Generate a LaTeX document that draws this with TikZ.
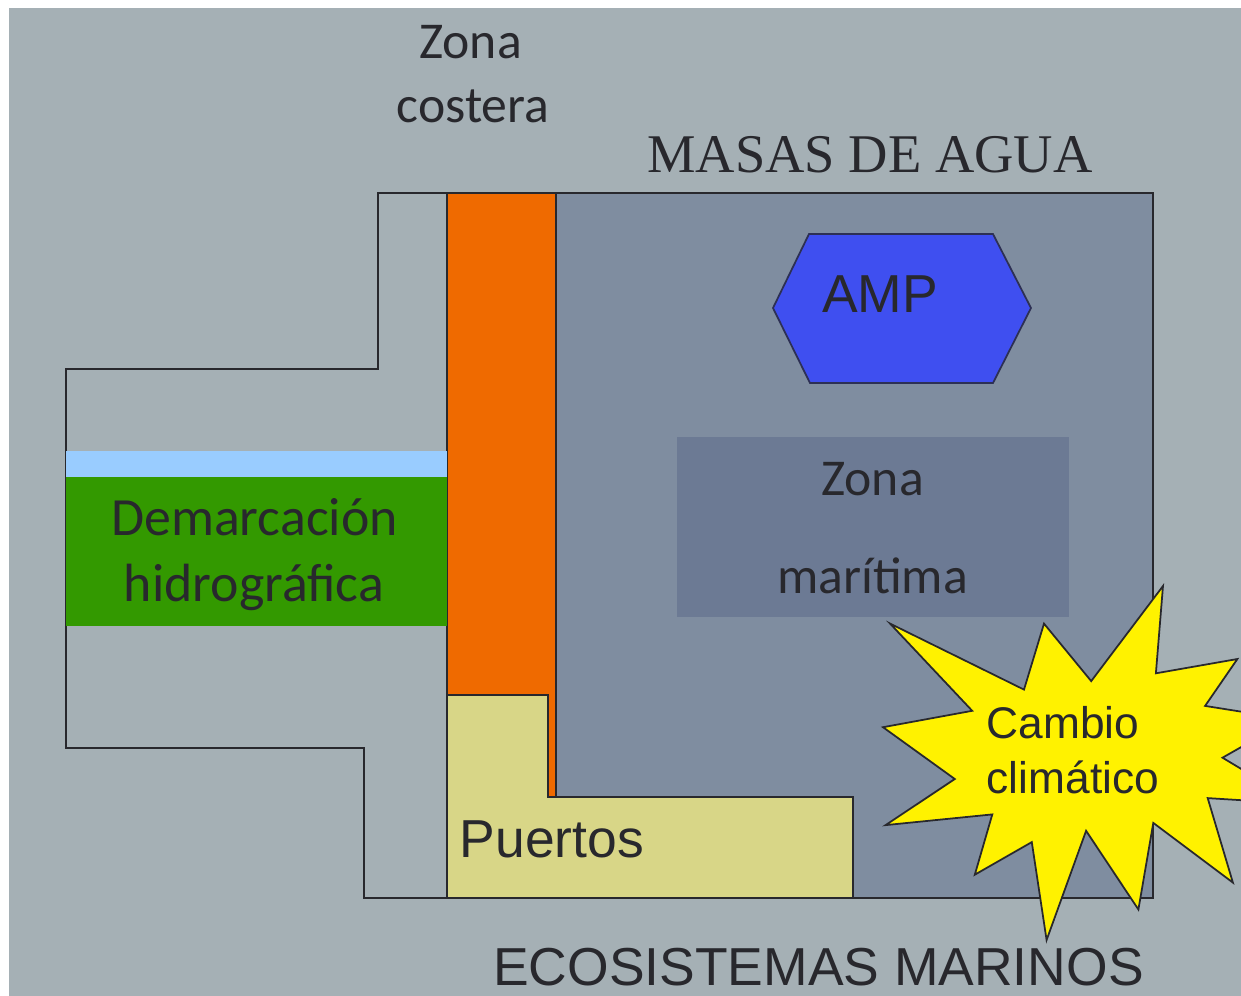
\documentclass[tikz,border=0pt]{standalone}
\usepackage{fontspec}
\setmainfont{Liberation Sans}
\newfontfamily\carlito{Carlito}
\newfontfamily\timesserif{Liberation Serif}
\usepackage{tikz}

\definecolor{bgslate}{RGB}{165,176,181}
\definecolor{masasblue}{RGB}{127,141,160}
\definecolor{zonamar}{RGB}{108,122,148}
\definecolor{costaorange}{RGB}{239,106,0}
\definecolor{puertosyellow}{RGB}{216,214,135}
\definecolor{demgreen}{RGB}{51,153,0}
\definecolor{riverblue}{RGB}{153,204,255}
\definecolor{ampblue}{RGB}{63,79,240}
\definecolor{inkgray}{RGB}{40,40,45}

\tikzset{
	arealine/.style={draw=inkgray, line width=0.5pt, line join=miter},
	txt/.style={inner sep=0pt, anchor=base, text=inkgray},
	calfont/.style={font=\carlito\fontsize{14.7pt}{17pt}\selectfont},
	arialfont/.style={font=\fontsize{15.2pt}{18pt}\selectfont}
}

\begin{document}
\begin{tikzpicture}[x=0.01cm, y=-0.01cm]
	\useasboundingbox (0,0) rectangle (1241,996);
	\clip (0,0) rectangle (1241,996);
	\fill[white] (0,0) rectangle (1241,996);
	\fill[bgslate] (9,8) rectangle (1241,996);
	
	% areas
	\filldraw[arealine, fill=masasblue] (556,193) rectangle (1153,898);
	\filldraw[arealine, fill=costaorange] (447,193) rectangle (556,797);
	\filldraw[arealine, fill=puertosyellow] (447,695) -- (548,695) -- (548,797) -- (853,797) -- (853,898) -- (447,898) -- cycle;
	\draw[arealine] (378,193) -- (1153,193) -- (1153,898) -- (364,898) -- (364,748) -- (66,748) -- (66,369) -- (378,369) -- cycle;
	\fill[riverblue] (66,451) rectangle (447,477);
	\fill[demgreen] (66,477) rectangle (447,626);
	\fill[zonamar] (677,437) rectangle (1069,617);
	\filldraw[draw=inkgray!80!ampblue, line width=0.5pt, fill=ampblue] (773,308) -- (809,234) -- (993,234) -- (1031,308) -- (993,383) -- (810,383) -- cycle;
	\filldraw[arealine, fill=yellow] (1091.2,681.1) -- (1163.0,586.0) -- (1155.9,673.3) -- (1237.4,659.0) -- (1205.1,705.9) -- (1289.8,719.4) -- (1222.5,757.7) -- (1299.5,803.8) -- (1207.7,798.1) -- (1232.9,882.6) -- (1153.3,822.9) -- (1138.4,909.5) -- (1086.1,830.8) -- (1046.6,940.0) -- (1031.8,842.1) -- (974.8,874.7) -- (992.3,814.4) -- (885.6,825.1) -- (954.8,779.0) -- (883.0,727.2) -- (972.2,710.8) -- (890.1,623.6) -- (1024.0,689.6) -- (1044.0,623.6) -- cycle;
	
	% texts
	\node[txt, calfont] at (470.5,58) (zonacost) {Zona};
	\node[txt, calfont] at (473,122) (costera) {costera};
	\node[txt, font=\timesserif\fontsize{15.5pt}{18pt}\selectfont] at (870,172) (masas) {MASAS DE AGUA};
	\node[txt, arialfont] at (880,312) (amp) {AMP};
	\node[txt, calfont] at (872.5,495) (zonamari) {Zona};
	\node[txt, calfont] at (872.5,593) (maritima) {marítima};
	\node[txt, calfont, font=\carlito\fontsize{15.3pt}{18pt}\selectfont] at (254.5,535) (demarc) {Demarcación};
	\node[txt, calfont, font=\carlito\fontsize{15.3pt}{18pt}\selectfont] at (254,601) (hidro) {hidrográfica};
	\node[txt, arialfont, anchor=base west] at (459,857) (puertos) {Puertos};
	\node[txt, font=\fontsize{12.6pt}{15pt}\selectfont, anchor=base west] at (986,738) (cambio) {Cambio};
	\node[txt, font=\fontsize{12.6pt}{15pt}\selectfont, anchor=base west] at (986,793) (climat) {climático};
	\node[txt, arialfont] at (818.5,985) (ecosis) {ECOSISTEMAS MARINOS};
	
\end{tikzpicture}
\end{document}
